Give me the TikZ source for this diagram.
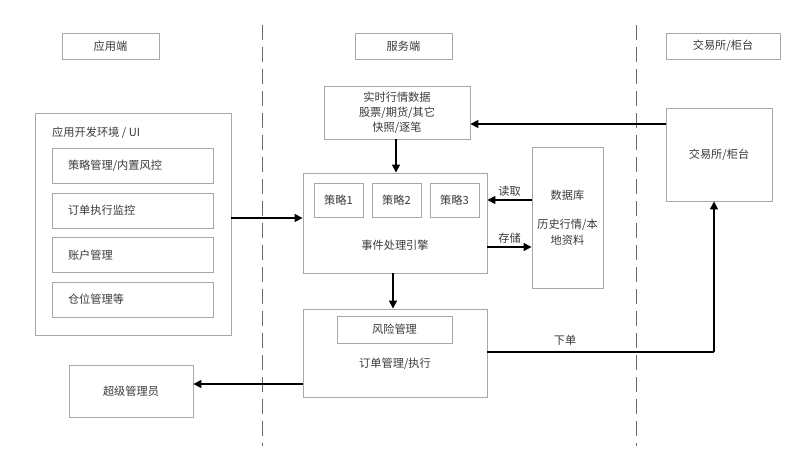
\documentclass[tikz,border=0pt]{standalone}
\usepackage{fontspec}
\setmainfont{Noto Sans CJK SC}
\usetikzlibrary{arrows.meta}
\definecolor{boxline}{HTML}{A8A8A8}
\definecolor{txt}{HTML}{3A3A3A}
\definecolor{dashc}{HTML}{6A6A6A}
\begin{document}
\begin{tikzpicture}[x=1pt,y=-1pt,
  box/.style={draw=boxline, line width=0.9pt, inner sep=0pt, align=center, text=txt, font=\fontsize{11.2}{15}\selectfont},
  lbl/.style={inner sep=0pt, text=txt, font=\fontsize{11.2}{15}\selectfont, align=center},
  leftbox/.style={box, minimum height=35pt, inner xsep=16pt, text width=129pt, align=left},
  arr/.style={draw=black, line width=1.5pt, -{Triangle[length=8pt,width=8pt]}},
  plain/.style={draw=black, line width=1.5pt},
  sep/.style={draw=dashc, line width=1pt, dash pattern=on 15pt off 7pt}]
\fill[white] (0,0) rectangle (802,458);
\useasboundingbox (0,0) rectangle (802,458);

% separators
\coordinate (d1t) at (262,25); \coordinate (d1b) at (262,446);
\coordinate (d2t) at (636,25); \coordinate (d2b) at (636,446);
\draw[sep] (d1t) -- (d1b);
\draw[sep] (d2t) -- (d2b);

% headers
\node[box, minimum width=97pt, minimum height=26pt] (hApp) at (110.5,46) {应用端};
\node[box, minimum width=97pt, minimum height=26pt] (hSrv) at (403.5,46) {服务端};
\node[box, minimum width=114pt, minimum height=26pt] (hEx) at (723,46) {交易所/柜台};

% application side
\node[box, minimum width=196pt, minimum height=222pt] (appEnv) at (133,224) {};
\node[lbl, anchor=west] (appLbl) at (52,133) {应用开发环境 / UI};
\node[leftbox] (s1) at (132.5,165.5) {策略管理/内置风控};
\node[leftbox] (s2) at (132.5,210.5) {订单执行监控};
\node[leftbox] (s3) at (132.5,255) {账户管理};
\node[leftbox] (s4) at (132.5,299.5) {仓位管理等};
\node[box, minimum width=124pt, minimum height=52pt] (adm) at (131,391) {超级管理员};

% server side
\node[box, minimum width=146pt, minimum height=53pt] (mkt) at (397,112.5) {实时行情数据\\股票/期货/其它\\快照/逐笔};
\node[box, minimum width=184pt, minimum height=100pt] (eng) at (395,223) {};
\node[box, minimum width=49pt, minimum height=34pt] (st1) at (338.5,200) {策略1};
\node[box, minimum width=49pt, minimum height=34pt] (st2) at (396.5,200) {策略2};
\node[box, minimum width=49pt, minimum height=34pt] (st3) at (454.5,200) {策略3};
\node[lbl] (engLbl) at (395,245) {事件处理引擎};
\node[box, minimum width=71pt, minimum height=141pt, font=\fontsize{11.2}{16}\selectfont] (db) at (567.5,217.5) {数据库\\[13pt]历史行情/本\\地资料};
\node[box, minimum width=184pt, minimum height=88pt] (ord) at (395,353) {};
\node[box, minimum width=115pt, minimum height=27pt] (risk) at (394.5,329.5) {风险管理};
\node[lbl] (ordLbl) at (395,364) {订单管理/执行};

% exchange side
\node[box, minimum width=106pt, minimum height=93pt] (ex) at (719,154.5) {交易所/柜台};

% connectors
\draw[arr] ([yshift=6pt]appEnv.east) -- ([yshift=5pt]eng.west);
\draw[arr] ([xshift=-1pt]mkt.south) -- ([xshift=-1pt]mkt.south |- eng.north);
\draw[arr] ([yshift=30.5pt]ex.west) -- ([yshift=30.5pt]ex.west -| mkt.east);
\draw[arr] ([yshift=17.5pt]db.west) -- node[lbl, above=3pt] (rd) {读取} ([yshift=17.5pt]db.west -| eng.east);
\draw[arr] ([yshift=-24pt]eng.east) -- node[lbl, above=3pt] (wr) {存储} ([yshift=-24pt]eng.east -| db.west);
\draw[arr] ([xshift=-2pt]eng.south) -- ([xshift=-2pt]eng.south |- ord.north);
\draw[arr] ([yshift=-31pt]ord.west) -- ([yshift=-31pt]ord.west -| adm.east);
\coordinate (turn) at (714,352);
\draw[plain] ([yshift=1pt]ord.east) -- (turn);
\draw[arr] (turn) -- (turn |- ex.south);
\node[lbl] (xd) at (565,340) {下单};
\end{tikzpicture}
\end{document}
